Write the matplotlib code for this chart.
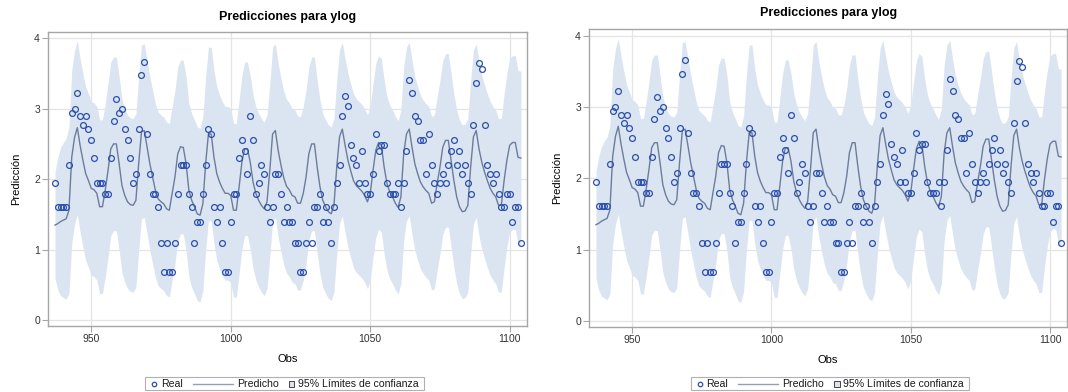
import matplotlib
matplotlib.use("Agg")
import matplotlib.pyplot as plt
from matplotlib.lines import Line2D
from matplotlib.patches import Rectangle
from matplotlib.offsetbox import AnchoredOffsetbox, DrawingArea, HPacker, TextArea
import numpy as np

plt.rcParams['font.family'] = ['Liberation Sans', 'DejaVu Sans']

# observation numbers 937..1104
obs_first = 937
obs_last = 1104

real = [
    1.95, 1.61, 1.61, 1.61, 1.61, 2.20, 2.94, 3.00, 3.22, 2.89,   # 937-946
    2.77, 2.89, 2.71, 2.56, 2.30, 1.95, 1.95, 1.95, 1.79, 1.79,   # 947-956
    2.30, 2.83, 3.14, 2.94, 3.00, 2.71, 2.56, 2.30, 1.95, 2.08,   # 957-966
    2.71, 3.47, 3.66, 2.64, 2.08, 1.79, 1.79, 1.61, 1.10, 0.69,   # 967-976
    1.10, 0.69, 0.69, 1.10, 1.79, 2.20, 2.20, 2.20, 1.79, 1.61,   # 977-986
    1.10, 1.39, 1.39, 1.79, 2.20, 2.71, 2.64, 1.61, 1.39, 1.61,   # 987-996
    1.10, 0.69, 0.69, 1.39, 1.79, 1.79, 2.30, 2.56, 2.40, 2.08,   # 997-1006
    2.89, 2.56, 1.79, 1.95, 2.20, 2.08, 1.61, 1.39, 1.61, 2.08,   # 1007-1016
    2.08, 1.79, 1.39, 1.61, 1.39, 1.39, 1.10, 1.10, 0.69, 0.69,   # 1017-1026
    1.10, 1.39, 1.10, 1.61, 1.61, 1.79, 1.39, 1.61, 1.39, 1.10,   # 1027-1036
    1.61, 1.95, 2.20, 2.89, 3.18, 3.04, 2.48, 2.30, 2.20, 1.95,   # 1037-1046
    2.40, 1.95, 1.79, 1.79, 2.08, 2.64, 2.40, 2.48, 2.48, 1.95,   # 1047-1056
    1.79, 1.79, 1.79, 1.95, 1.61, 1.95, 2.40, 3.40, 3.22, 2.89,   # 1057-1066
    2.83, 2.56, 2.56, 2.08, 2.64, 2.20, 1.95, 1.79, 1.95, 2.08,   # 1067-1076
    1.95, 2.20, 2.40, 2.56, 2.20, 2.40, 2.08, 2.20, 1.95, 1.79,   # 1077-1086
    2.77, 3.37, 3.64, 3.56, 2.77, 2.20, 2.08, 1.95, 2.08, 1.79,   # 1087-1096
    1.61, 1.61, 1.79, 1.79, 1.39, 1.61, 1.61, 1.10,               # 1097-1104
]

# predicted values (line)
pred = [
    1.35, 1.37, 1.40, 1.42, 1.44, 1.56, 2.31, 2.59, 2.73, 2.48,   # 937-946
    2.27, 2.08, 1.98, 1.87, 1.85, 1.80, 1.61, 1.61, 1.84, 2.12,   # 947-956
    2.43, 2.50, 2.50, 2.22, 1.91, 1.77, 1.68, 1.64, 1.63, 1.70,   # 957-966
    2.22, 2.67, 2.69, 2.46, 2.22, 2.03, 1.84, 1.72, 1.68, 1.65,   # 967-976
    1.58, 1.56, 1.80, 2.03, 2.36, 2.46, 2.45, 2.22, 1.84, 1.70,   # 977-986
    1.61, 1.51, 1.49, 1.65, 2.22, 2.64, 2.64, 2.31, 2.08, 1.96,   # 987-996
    1.87, 1.80, 1.80, 1.77, 1.56, 1.56, 1.89, 2.24, 2.43, 2.43,   # 997-1006
    2.24, 1.96, 1.80, 1.70, 1.63, 1.58, 1.68, 2.12, 2.64, 2.69,   # 1007-1016
    2.41, 2.20, 2.02, 1.90, 1.85, 1.77, 1.75, 1.66, 1.66, 1.80,   # 1017-1026
    2.03, 2.36, 2.50, 2.50, 2.17, 1.89, 1.70, 1.61, 1.54, 1.51,   # 1027-1036
    1.63, 2.17, 2.60, 2.71, 2.48, 2.27, 2.12, 1.98, 1.91, 1.87,   # 1037-1046
    1.83, 1.77, 1.68, 1.80, 2.12, 2.41, 2.52, 2.48, 2.17, 1.94,   # 1047-1056
    1.82, 1.75, 1.66, 1.60, 1.75, 2.36, 2.64, 2.71, 2.45, 2.22,   # 1057-1066
    2.08, 1.96, 1.89, 1.84, 1.80, 1.66, 1.68, 1.94, 2.17, 2.45,   # 1067-1076
    2.55, 2.55, 2.27, 1.98, 1.75, 1.61, 1.54, 1.55, 1.63, 2.17,   # 1077-1086
    2.60, 2.69, 2.43, 2.24, 2.10, 1.98, 1.87, 1.80, 1.75, 1.63,   # 1087-1096
    1.63, 1.98, 2.27, 2.48, 2.52, 2.52, 2.31, 2.30,               # 1097-1104
]

# half width of the 95% band: narrower over the first obs, then about constant
ci_half_start = [0.75, 0.94, 1.05, 1.10, 1.14, 1.18]
ci_half_rest = 1.23

x_ticks = [950, 1000, 1050, 1100]
y_ticks = [0, 1, 2, 3, 4]

title = "Predicciones para ylog"
xlabel = "Obs"
ylabel = "Predicción"
legend_labels = ["Real", "Predicho", "95% Límites de confianza"]

obs = np.arange(obs_first, obs_last + 1)
assert len(obs) == len(real) == len(pred)
half = np.full(len(obs), ci_half_rest)
half[:len(ci_half_start)] = ci_half_start
lower = np.array(pred) - half
upper = np.array(pred) + half

W, H = 1068, 392
fig = plt.figure(figsize=(W / 100, H / 100), dpi=100)

marker_col = '#2b4fae'
line_col = '#6b7c9c'
band_col = '#dbe5f1'
frame_col = '#a6a6a6'
grid_col = '#e4e4e4'
PT = 0.72  # points per pixel at 100 dpi


def spacer(px):
    return DrawingArea(px * PT, 1)


def legend_box(cx, cy):
    h = 8 * PT
    da_c = DrawingArea(6 * PT, h)
    da_c.add_artist(Line2D([3 * PT], [h / 2], ls='none', marker='o', mfc='none',
                           mec=marker_col, ms=3.2, mew=0.9))
    da_l = DrawingArea(40 * PT, h)
    da_l.add_artist(Line2D([0, 40 * PT], [h / 2, h / 2], color='#8fa0bd', lw=1.0))
    da_s = DrawingArea(6 * PT, h)
    da_s.add_artist(Rectangle((0.3, h / 2 - 3 * PT), 5.5 * PT, 6 * PT,
                              facecolor=band_col, edgecolor='#444444', lw=0.7))
    tp = dict(fontsize=7.6, color='#1a1a1a')
    items = [spacer(4.5), da_c, spacer(3.5), TextArea(legend_labels[0], textprops=tp),
             spacer(10), da_l, spacer(4.5), TextArea(legend_labels[1], textprops=tp),
             spacer(9.5), da_s, spacer(3.5), TextArea(legend_labels[2], textprops=tp),
             spacer(4)]
    row = HPacker(children=items, align='center', pad=0, sep=0)
    box = AnchoredOffsetbox(loc='center', child=row, pad=0.1, borderpad=0,
                            frameon=True, bbox_to_anchor=(cx / W, 1 - cy / H),
                            bbox_transform=fig.transFigure)
    box.patch.set_edgecolor('#b0b0b0')
    box.patch.set_linewidth(0.8)
    box.patch.set_boxstyle('square', pad=0)
    fig.add_artist(box)


def draw_panel(box, title_pad, legend_cx):
    l, t, r, b = box
    ax = fig.add_axes([l / W, 1 - b / H, (r - l) / W, (b - t) / H])
    ax.fill_between(obs, lower, upper, color=band_col, lw=0, zorder=1)
    ax.plot(obs, pred, color=line_col, lw=1.0, zorder=2)
    ax.plot(obs, real, 'o', mfc='none', mec=marker_col, ms=4.2, mew=0.9, zorder=3)
    ax.set_xlim(934.6, 1106.1)
    ax.set_ylim(-0.08, 4.09)
    ax.set_xticks(x_ticks)
    ax.set_yticks(y_ticks)
    ax.grid(True, color=grid_col, lw=0.9, zorder=0)
    ax.set_axisbelow(True)
    for s in ax.spines.values():
        s.set_color(frame_col)
        s.set_linewidth(1.0)
    ax.tick_params(colors='#333333', labelsize=7.5, length=4, width=0.8,
                   color=frame_col, pad=2)
    ax.set_title(title, fontsize=9, fontweight='bold', pad=title_pad)
    ax.set_xlabel(xlabel, fontsize=8, labelpad=7)
    ax.set_ylabel(ylabel, fontsize=8, labelpad=9)
    legend_box(legend_cx, 383.7)
    return ax


# (left, top, right, bottom) in pixels
draw_panel((48.3, 31.7, 526.7, 326.0), 8.5, 284.7)
draw_panel((589.3, 29.3, 1067.0, 326.7), 9.5, 830.0)

fig.savefig("out.png", dpi=100)
